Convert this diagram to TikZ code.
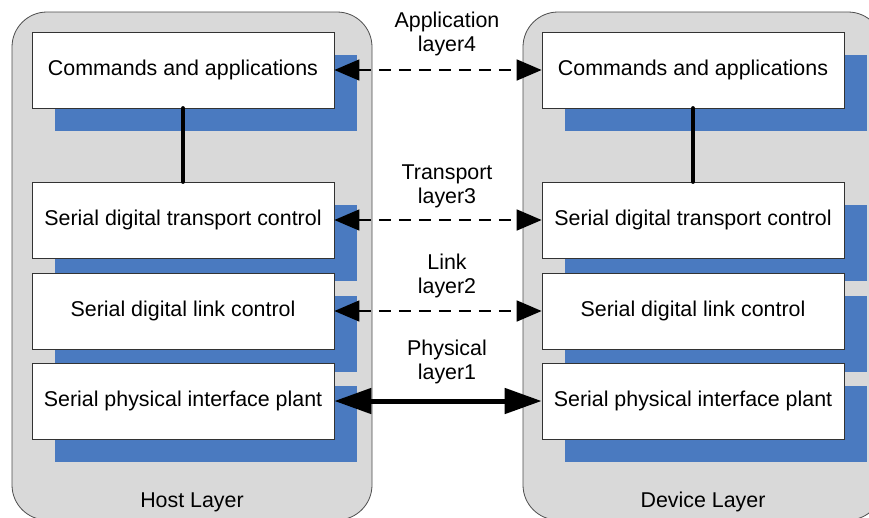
\documentclass[tikz,border=0pt]{standalone}
\usepackage{fontspec}
\setmainfont{Liberation Sans}
\usetikzlibrary{arrows.meta,shadows}
\definecolor{panelgray}{RGB}{217,217,217}
\definecolor{shadeblue}{RGB}{74,122,192}
\begin{document}
\begin{tikzpicture}[x=1pt, y=-1pt,
    font=\fontsize{21.4}{24}\selectfont,
    panel/.style={draw=black!70, fill=panelgray, line width=0.8pt, rounded corners=35pt},
    layerbox/.style={draw=black!80, fill=white, line width=0.8pt, minimum width=302pt,
        minimum height=76pt, inner sep=0pt,
        general shadow={fill=shadeblue, shadow xshift=22.5pt, shadow yshift=-22.5pt}},
    peer/.style={line width=1.8pt, dash pattern=on 12pt off 8pt,
        {Triangle[length=25pt,width=21pt]}-{Triangle[length=25pt,width=21pt]}},
    wire/.style={line width=5pt,
        {Triangle[length=37pt,width=25pt]}-{Triangle[length=37pt,width=25pt]}},
    stack/.style={line width=4.6pt, line cap=round}]
    \useasboundingbox (0,0) rectangle (869,517);

    \draw[panel] (12,12) rectangle (372,520);
    \draw[panel] (523,12) rectangle (883,520);
    \node (host) at (192,502) {Host Layer};
    \node (dev) at (703,502) {Device Layer};

    \node[layerbox] (host_app) at (183,70) {Commands and applications};
    \node[layerbox] (host_tr) at (183,220) {Serial digital transport control};
    \node[layerbox] (host_ln) at (183,311) {Serial digital link control};
    \node[layerbox] (host_ph) at (183,401) {Serial physical interface plant};

    \node[layerbox] (dev_app) at (693,70) {Commands and applications};
    \node[layerbox] (dev_tr) at (693,220) {Serial digital transport control};
    \node[layerbox] (dev_ln) at (693,311) {Serial digital link control};
    \node[layerbox] (dev_ph) at (693,401) {Serial physical interface plant};

    \node[align=center] (app_lbl) at (447,34) {Application\\layer4};
    \node[align=center] (tr_lbl) at (447,186) {Transport\\layer3};
    \node[align=center] (ln_lbl) at (447,276) {Link\\layer2};
    \node[align=center] (ph_lbl) at (447,362) {Physical\\layer1};

    \draw[stack] (host_app) -- (host_tr);
    \draw[stack] (dev_app) -- (dev_tr);

    \draw[peer] (host_app) -- (dev_app);
    \draw[peer] (host_tr) -- (dev_tr);
    \draw[peer] (host_ln) -- (dev_ln);
    \draw[wire] (host_ph) -- (dev_ph);
  \end{tikzpicture}
\end{document}
